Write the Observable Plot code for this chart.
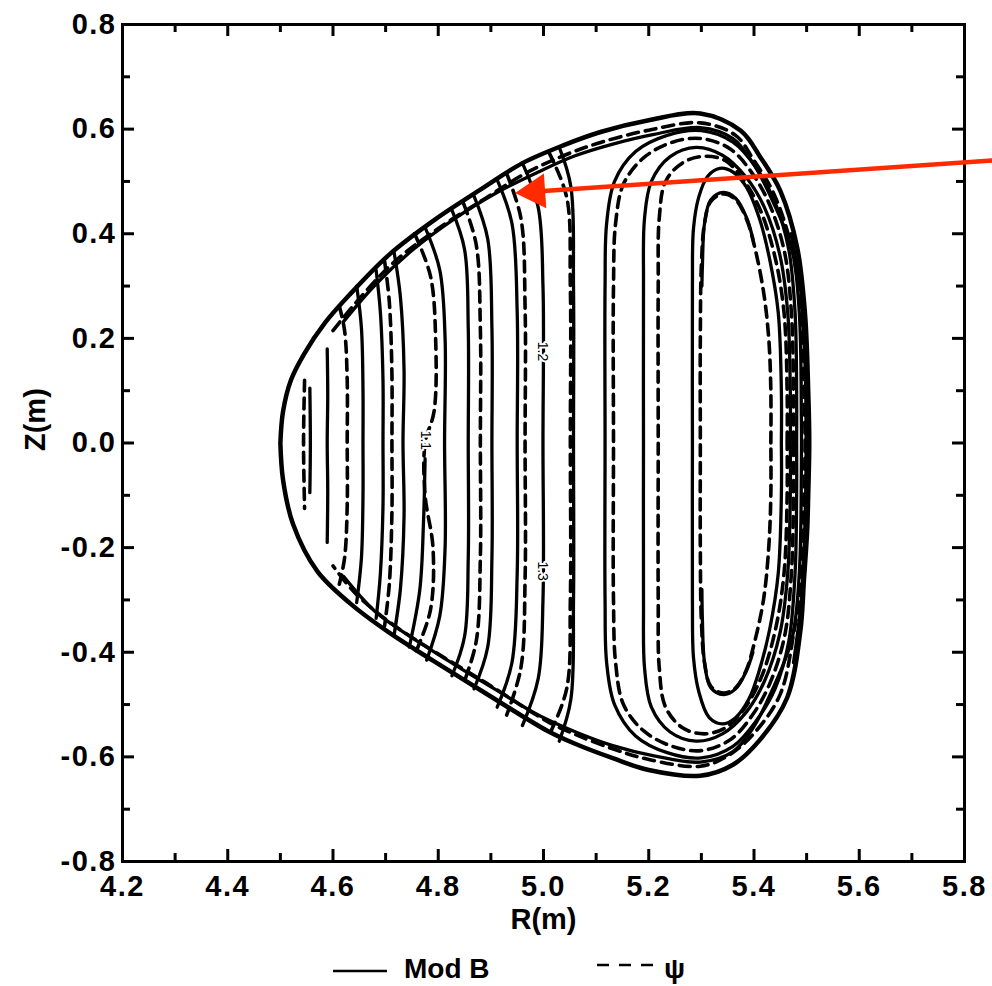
<!DOCTYPE html>
<html><head><meta charset="utf-8">
<script src="https://cdn.jsdelivr.net/npm/d3@7"></script>
<script src="https://cdn.jsdelivr.net/npm/@observablehq/plot@0.6"></script>
<style>
body{margin:0;background:#fff;}
#wrap{position:relative;width:992px;height:986px;overflow:hidden;font-family:"Liberation Sans",Arial,sans-serif;}
#chart{position:absolute;left:0;top:0;}
#legend{position:absolute;left:0;top:940px;}
#chart g[aria-label="x-axis tick label"] text, #chart g[aria-label="y-axis tick label"] text{letter-spacing:1.5px;}
</style></head>
<body><div id="wrap"><div id="chart"></div><div id="legend"></div></div>
<script>
// ---- axis ticks ----
const xMajorTicks = [4.2, 4.4, 4.6, 4.8, 5.0, 5.2, 5.4, 5.6, 5.8];
const xMinorTicks = [4.3, 4.5, 4.7, 4.9, 5.1, 5.3, 5.5, 5.7];
const yMajorTicks = [-0.8, -0.6, -0.4, -0.2, 0.0, 0.2, 0.4, 0.6, 0.8];
const yMinorTicks = [-0.7, -0.5, -0.3, -0.1, 0.1, 0.3, 0.5, 0.7];

// ---- plasma boundary (R, Z) ----
const boundary = [[4.500,0.00],[4.505,0.06],[4.520,0.12],[4.545,0.17],[4.585,0.23],[4.633,0.285],[4.709,0.362],
  [4.795,0.428],[4.886,0.488],[4.960,0.535],[5.040,0.570],[5.110,0.595],[5.200,0.617],[5.298,0.630],[5.375,0.597],
  [5.413,0.545],[5.450,0.482],[5.482,0.374],[5.497,0.246],[5.503,0.10],[5.505,0.00],[5.503,-0.10],[5.501,-0.168],
  [5.495,-0.26],[5.488,-0.360],[5.463,-0.487],[5.410,-0.569],[5.360,-0.615],[5.298,-0.636],[5.200,-0.625],
  [5.133,-0.603],[5.060,-0.575],[5.007,-0.550],[4.886,-0.476],[4.790,-0.416],[4.709,-0.364],[4.633,-0.307],
  [4.570,-0.245],[4.524,-0.155],[4.505,-0.07],[4.500,0.00]];

// ---- Mod B contours (solid) ----
const modBContours = [
  [[4.556,0.105],[4.557,0.0],[4.556,-0.095]],
  [[4.589,0.18],[4.590,0.09],[4.589,0],[4.590,-0.09],[4.589,-0.19]],
  [[4.645,0.30],[4.654,0.22],[4.657,0.1],[4.657,0],[4.657,-0.1],[4.654,-0.22],[4.645,-0.305]],
  [[4.682,0.33],[4.690,0.25],[4.695,0.12],[4.695,0],[4.695,-0.12],[4.690,-0.25],[4.682,-0.335]],
  [[4.716,0.365],[4.728,0.28],[4.735,0.14],[4.733,0],[4.735,-0.14],[4.728,-0.28],[4.716,-0.368]],
  [[4.775,-0.03],[4.772,-0.15],[4.765,-0.28],[4.745,-0.39]],
  [[4.776,0.41],[4.803,0.33],[4.813,0.2],[4.812,0],[4.813,-0.2],[4.803,-0.33],[4.778,-0.415]],
  [[4.826,0.445],[4.850,0.37],[4.857,0.22],[4.857,0],[4.857,-0.22],[4.850,-0.37],[4.826,-0.445]],
  [[4.868,0.472],[4.894,0.39],[4.902,0.22],[4.902,0],[4.902,-0.22],[4.894,-0.39],[4.868,-0.47]],
  [[4.912,0.503],[4.940,0.42],[4.950,0.25],[4.950,0],[4.950,-0.25],[4.940,-0.42],[4.912,-0.505]],
  [[4.960,0.535],[4.990,0.45],[4.999,0.3],[4.999,0],[4.999,-0.3],[4.990,-0.45],[4.960,-0.54]],
  [[5.030,0.565],[5.052,0.49],[5.057,0.3],[5.057,0],[5.057,-0.3],[5.052,-0.49],[5.030,-0.57]],
  [[5.481,0],[5.481,0.1],[5.478,0.25],[5.466,0.37],[5.44,0.46],[5.405,0.525],[5.36,0.575],[5.30,0.597],[5.235,0.588],
   [5.175,0.557],[5.135,0.50],[5.120,0.42],[5.117,0.30],[5.117,0],[5.117,-0.30],[5.120,-0.42],[5.135,-0.50],
   [5.175,-0.56],[5.235,-0.592],[5.30,-0.602],[5.36,-0.58],[5.405,-0.53],[5.44,-0.47],[5.466,-0.38],[5.478,-0.25],
   [5.481,-0.1],[5.481,0]],
  [[5.469,0],[5.469,0.1],[5.464,0.25],[5.449,0.36],[5.42,0.45],[5.385,0.508],[5.34,0.55],[5.29,0.565],[5.24,0.547],
   [5.205,0.50],[5.192,0.43],[5.190,0.30],[5.190,0],[5.190,-0.30],[5.192,-0.43],[5.205,-0.505],[5.24,-0.552],
   [5.29,-0.57],[5.34,-0.556],[5.385,-0.515],[5.42,-0.455],[5.449,-0.365],[5.464,-0.25],[5.469,-0.1],[5.469,0]],
  [[5.452,0],[5.452,0.1],[5.446,0.25],[5.43,0.35],[5.41,0.43],[5.385,0.49],[5.36,0.518],[5.335,0.525],[5.312,0.51],
   [5.295,0.47],[5.285,0.41],[5.283,0.30],[5.283,0],[5.283,-0.30],[5.285,-0.41],[5.295,-0.475],[5.315,-0.525],
   [5.34,-0.537],[5.365,-0.525],[5.39,-0.49],[5.41,-0.435],[5.43,-0.355],[5.446,-0.25],[5.452,-0.1],[5.452,0]],
  [[5.398,0.39],[5.385,0.433],[5.365,0.468],[5.342,0.479],[5.318,0.465],[5.306,0.42],[5.302,0.34],[5.301,0.30]],
  [[5.301,-0.28],[5.302,-0.34],[5.306,-0.42],[5.318,-0.468],[5.342,-0.481],[5.365,-0.47],[5.385,-0.437],[5.398,-0.40]],
  [[4.62,0.232],[4.68,0.302],[4.75,0.368],[4.83,0.428],[4.91,0.478],[4.99,0.518],[5.06,0.549],[5.13,0.571],[5.21,0.59],
   [5.298,0.603],[5.36,0.582],[5.398,0.535],[5.432,0.47],[5.472,0.37],[5.486,0.25],[5.490,0.05],[5.490,-0.05],[5.486,-0.25],
   [5.472,-0.375],[5.432,-0.478],[5.398,-0.545],[5.36,-0.59],[5.298,-0.61],[5.21,-0.598],[5.13,-0.578],[5.06,-0.552],
   [4.99,-0.52],[4.91,-0.472],[4.83,-0.423],[4.75,-0.372],[4.68,-0.322],[4.62,-0.255]],
  [[5.470,0.40],[5.488,0.30],[5.497,0.15],[5.499,0],[5.497,-0.15],[5.490,-0.30],[5.475,-0.42]]
];

// ---- psi contours (dashed) ----
const psiContours = [
  [[4.546,0.12],[4.544,0],[4.546,-0.125]],
  [[4.612,0.262],[4.622,0.215],[4.627,0.12],[4.627,0],[4.627,-0.12],[4.622,-0.22],[4.612,-0.27]],
  [[4.698,0.348],[4.707,0.27],[4.712,0.13],[4.712,0],[4.712,-0.13],[4.707,-0.27],[4.698,-0.35]],
  [[4.755,0.40],[4.785,0.32],[4.795,0.2],[4.792,0.06],[4.775,0.0],[4.775,-0.1],[4.790,-0.2],[4.785,-0.32],[4.755,-0.405]],
  [[4.848,0.458],[4.872,0.38],[4.880,0.22],[4.880,0],[4.880,-0.22],[4.872,-0.38],[4.848,-0.46]],
  [[4.930,0.515],[4.957,0.43],[4.965,0.26],[4.965,0],[4.965,-0.26],[4.957,-0.43],[4.930,-0.52]],
  [[5.010,0.556],[5.044,0.47],[5.051,0.3],[5.051,0],[5.051,-0.3],[5.044,-0.47],[5.010,-0.56]],
  [[5.475,0],[5.475,0.1],[5.471,0.25],[5.458,0.365],[5.43,0.455],[5.397,0.515],[5.355,0.562],[5.30,0.582],[5.245,0.575],
   [5.19,0.545],[5.152,0.495],[5.137,0.42],[5.133,0.30],[5.133,0],[5.133,-0.30],[5.137,-0.42],[5.152,-0.50],
   [5.19,-0.55],[5.245,-0.58],[5.30,-0.588],[5.355,-0.567],[5.397,-0.52],[5.43,-0.46],[5.458,-0.37],[5.471,-0.25],
   [5.475,-0.1],[5.475,0]],
  [[5.463,0],[5.463,0.1],[5.457,0.25],[5.44,0.355],[5.413,0.443],[5.38,0.503],[5.345,0.54],[5.305,0.548],[5.265,0.536],
   [5.232,0.50],[5.220,0.43],[5.218,0.30],[5.218,0],[5.218,-0.30],[5.220,-0.43],[5.232,-0.505],[5.265,-0.545],
   [5.305,-0.556],[5.345,-0.545],[5.38,-0.51],[5.413,-0.45],[5.44,-0.36],[5.457,-0.25],[5.463,-0.1],[5.463,0]],
  [[5.432,0],[5.432,0.1],[5.428,0.2],[5.418,0.29],[5.40,0.38],[5.385,0.43],[5.365,0.465],[5.342,0.476],[5.318,0.462],
   [5.306,0.42],[5.300,0.34],[5.298,0.2],[5.298,0],[5.298,-0.2],[5.300,-0.34],[5.306,-0.42],[5.318,-0.465],
   [5.342,-0.478],[5.365,-0.468],[5.385,-0.435],[5.40,-0.385],[5.418,-0.30],[5.428,-0.2],[5.432,-0.1],[5.432,0]],
  [[4.60,0.215],[4.645,0.27],[4.715,0.345],[4.80,0.41],[4.89,0.468],[4.965,0.515],[5.04,0.55],[5.11,0.575],
   [5.20,0.598],[5.298,0.612],[5.365,0.588],[5.40,0.54],[5.437,0.478],[5.472,0.372],[5.490,0.25],[5.495,0.1],
   [5.497,0],[5.495,-0.1],[5.490,-0.26],[5.476,-0.36],[5.45,-0.48],[5.40,-0.555],[5.35,-0.598],[5.298,-0.618],
   [5.20,-0.605],[5.133,-0.585],[5.06,-0.557],[5.007,-0.532],[4.89,-0.458],[4.795,-0.40],[4.715,-0.348],
   [4.645,-0.29],[4.60,-0.235]]
];

// ---- contour labels ----
const labelTexts = ["1.1", "1.2", "1.3"];
const labelR = [4.776, 4.999, 4.999];
const labelZ = [0.005, 0.175, -0.245];

// ---- annotation arrow ----
const arrowStart = [5.853, 0.540];
const arrowTip = [4.946, 0.478];

const toRows = (list) => list.flatMap((pts, i) => pts.map(([r, z]) => ({r, z, id: i})));
const modBRows = toRows(modBContours);
const psiRows = toRows(psiContours);
const boundaryRows = boundary.map(([r, z]) => ({r, z}));
const labels = labelTexts.map((t, i) => ({t, r: labelR[i], z: labelZ[i]}));

const W = 992, H = 940, mT = 24, mB = H - 861, mL = 122, mR = 28;
const innerH = H - mT - mB, innerW = W - mL - mR;
const red = "#ff2a00";

const chart = Plot.plot({
  width: W, height: H,
  marginTop: mT, marginBottom: mB, marginLeft: mL, marginRight: mR,
  x: {domain: [4.2, 5.8]},
  y: {domain: [-0.8, 0.8]},
  style: {fontFamily: "'Liberation Sans', Arial, sans-serif", background: "white", color: "black", overflow: "visible"},
  marks: [
    Plot.line(psiRows, {x: "r", y: "z", z: "id", curve: "catmull-rom", stroke: "black", strokeWidth: 3.6, strokeDasharray: "11,7"}),
    Plot.line(modBRows, {x: "r", y: "z", z: "id", curve: "catmull-rom", stroke: "black", strokeWidth: 3.3}),
    Plot.line(boundaryRows, {x: "r", y: "z", curve: "catmull-rom", stroke: "black", strokeWidth: 4.5}),
    Plot.text(labels, {x: "r", y: "z", text: "t", rotate: 90, fontSize: 14, fill: "black", stroke: "white", strokeWidth: 4}),
    Plot.frame({stroke: "black", strokeWidth: 3}),
    Plot.tickX(xMajorTicks, {x: d => d, insetTop: innerH - 12, stroke: "black", strokeWidth: 3}),
    Plot.tickX(xMinorTicks, {x: d => d, insetTop: innerH - 8, stroke: "black", strokeWidth: 3}),
    Plot.tickX(xMajorTicks, {x: d => d, insetBottom: innerH - 12, stroke: "black", strokeWidth: 3}),
    Plot.tickX(xMinorTicks, {x: d => d, insetBottom: innerH - 8, stroke: "black", strokeWidth: 3}),
    Plot.tickY(yMajorTicks, {y: d => d, insetRight: innerW - 12, stroke: "black", strokeWidth: 3}),
    Plot.tickY(yMinorTicks, {y: d => d, insetRight: innerW - 8, stroke: "black", strokeWidth: 3}),
    Plot.tickY(yMajorTicks, {y: d => d, insetLeft: innerW - 12, stroke: "black", strokeWidth: 3}),
    Plot.tickY(yMinorTicks, {y: d => d, insetLeft: innerW - 8, stroke: "black", strokeWidth: 3}),
    Plot.axisX(xMajorTicks, {tickSize: 0, tickPadding: 14, tickFormat: d => d.toFixed(1), fontSize: 29, fontWeight: "bold", label: null}),
    Plot.axisY(yMajorTicks, {tickSize: 0, tickPadding: 6, tickFormat: d => d.toFixed(1), fontSize: 29, fontWeight: "bold", label: null}),
    Plot.text(["R(m)"], {text: d => d, frameAnchor: "bottom", dy: 67, fontSize: 29, fontWeight: "bold"}),
    Plot.text(["Z(m)"], {text: d => d, frameAnchor: "left", dx: -87, dy: 8, rotate: -90, fontSize: 29, fontWeight: "bold"}),
    Plot.arrow([0], {x1: () => arrowStart[0], y1: () => arrowStart[1], x2: () => arrowTip[0], y2: () => arrowTip[1],
      stroke: red, strokeWidth: 4.5, headLength: 0, insetEnd: 14}),
    Plot.dot([0], {x: () => arrowTip[0], y: () => arrowTip[1], symbol: "triangle", r: 12.9, fill: red, stroke: null,
      rotate: 266, dx: 20, dy: -1.4})
  ]
});
document.getElementById("chart").appendChild(chart);

// ---- legend ----
const legendItems = [
  {label: "Mod B", dash: null, x1: 333, x2: 387, y: 31, tx: 404},
  {label: "ψ", dash: "12,10", x1: 597, x2: 655, y: 25, tx: 664}
];
const lg = d3.select("#legend").append("svg").attr("width", 992).attr("height", 46);
for (const it of legendItems) {
  lg.append("line").attr("x1", it.x1).attr("x2", it.x2).attr("y1", it.y).attr("y2", it.y)
    .attr("stroke", "black").attr("stroke-width", 2.6).attr("stroke-dasharray", it.dash);
  lg.append("text").attr("x", it.tx).attr("y", 38).text(it.label)
    .attr("font-family", "'Liberation Sans', Arial, sans-serif").attr("font-size", 28).attr("font-weight", "bold");
}
</script></body></html>
